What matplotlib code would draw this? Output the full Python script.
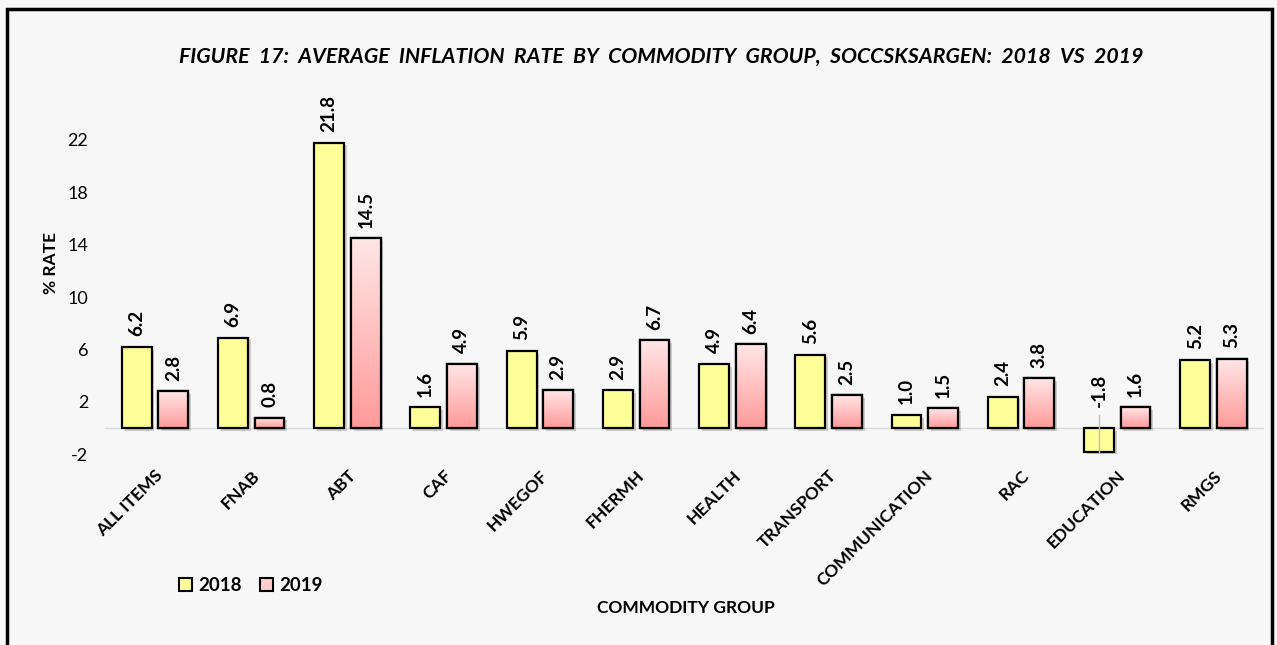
import numpy as np
import matplotlib
matplotlib.use("Agg")
import matplotlib.pyplot as plt
import matplotlib.patheffects as pe
from matplotlib.patches import Rectangle, Patch

# datos
grupos = ["ALL ITEMS", "FNAB", "ABT", "CAF", "HWEGOF", "FHERMH", "HEALTH",
          "TRANSPORT", "COMMUNICATION", "RAC", "EDUCATION", "RMGS"]
tasa_2018 = [6.2, 6.9, 21.8, 1.6, 5.9, 2.9, 4.9, 5.6, 1.0, 2.4, -1.8, 5.2]
tasa_2019 = [2.8, 0.8, 14.5, 4.9, 2.9, 6.7, 6.4, 2.5, 1.5, 3.8, 1.6, 5.3]
ticks_y = [-2, 2, 6, 10, 14, 18, 22]

fondo = "#f7f7f7"
amarillo = "#ffff99"
plt.rcParams["font.family"] = ["Lato", "DejaVu Sans"]

fig = plt.figure(figsize=(12.77, 6.45), dpi=100, facecolor=fondo)
ax = fig.add_axes([0.0822, 0.2837, 0.908, 0.5602], facecolor=fondo)

x = np.arange(len(grupos))
ancho = 0.31
desp = 0.19
sombra = [pe.SimplePatchShadow(offset=(2, -2), alpha=0.35, shadow_rgbFace="gray"), pe.Normal()]

barras1 = ax.bar(x - desp, tasa_2018, ancho, color=amarillo, edgecolor="black",
                 linewidth=1.6, zorder=3)
barras2 = ax.bar(x + desp, tasa_2019, ancho, color="#ffc8c8", edgecolor="black",
                 linewidth=1.6, zorder=3)
for b in list(barras1) + list(barras2):
    b.set_path_effects(sombra)

# degradado rosa para 2019
grad = np.linspace(0, 1, 100).reshape(-1, 1)
cmap = matplotlib.colors.LinearSegmentedColormap.from_list("rosa", ["#ff9a9a", "#ffe6e6"])
for b in barras2:
    x0, y0 = b.get_x(), b.get_y()
    w, h = b.get_width(), b.get_height()
    im = ax.imshow(grad, extent=[x0, x0 + w, y0, y0 + h], origin="lower",
                   cmap=cmap, aspect="auto", zorder=3.5)
    im.set_clip_path(b)
    r = Rectangle((x0, y0), w, h, fill=False, edgecolor="black", linewidth=1.6, zorder=4)
    ax.add_patch(r)

ax.axhline(0, color="#d9d9d9", linewidth=1, zorder=2)

# etiquetas de valores
for i in range(len(grupos)):
    for xx, v in [(x[i] - desp, tasa_2018[i]), (x[i] + desp, tasa_2019[i])]:
        if v >= 0:
            ax.text(xx, v + 0.8, f"{v:.1f}", rotation=90, ha="center", va="bottom",
                    fontsize=13.5, fontweight="bold", zorder=5)
        else:
            ax.plot([xx, xx], [v, 1.0], color="#bfbfbf", linewidth=1, zorder=5)
            ax.text(xx, 1.6, f"{v:.1f}", rotation=90, ha="center", va="bottom",
                    fontsize=13.5, fontweight="bold", zorder=5)

ax.set_xlim(-0.52, 11.53)
ax.set_ylim(-2.6, 25)
ax.set_yticks(ticks_y)
ax.set_yticklabels([str(t) for t in ticks_y], fontsize=13)
ax.set_xticks(x)
ax.set_xticklabels(grupos, rotation=45, ha="right", rotation_mode="anchor",
                   fontsize=12.5, fontweight="bold")
ax.tick_params(length=0)
ax.tick_params(axis="y", pad=12)
ax.tick_params(axis="x", pad=4)
for s in ax.spines.values():
    s.set_visible(False)

ax.set_ylabel("% RATE", fontsize=12.5, fontweight="bold")
ax.yaxis.set_label_coords(-0.04, 0.55)
fig.text(0.537, 0.057, "COMMODITY GROUP", ha="center", va="center",
         fontsize=12.5, fontweight="bold")
fig.text(0.518, 0.911, "FIGURE  17:  AVERAGE  INFLATION  RATE  BY  COMMODITY  GROUP,  SOCCSKSARGEN:  2018  VS  2019",
         ha="center", va="center", fontsize=15.3, fontweight="bold", style="italic")

manijas = [Patch(facecolor=amarillo, edgecolor="black", linewidth=1.5),
           Patch(facecolor="#ffcccc", edgecolor="black", linewidth=1.5)]
fig.legend(manijas, ["2018", "2019"], loc="center left", bbox_to_anchor=(0.127, 0.092),
           ncol=2, frameon=False, prop={"weight": "bold", "size": 13.5},
           handlelength=0.7, handleheight=0.7, handletextpad=0.3, columnspacing=1.0)

# marco del grafico
fig.patches.append(Rectangle((7 / 1277, -0.05), 1 - 12 / 1277, 1.05 - 9 / 645,
                             transform=fig.transFigure, fill=False,
                             edgecolor="black", linewidth=2.5))

fig.savefig("out.png", dpi=100, facecolor=fondo)
